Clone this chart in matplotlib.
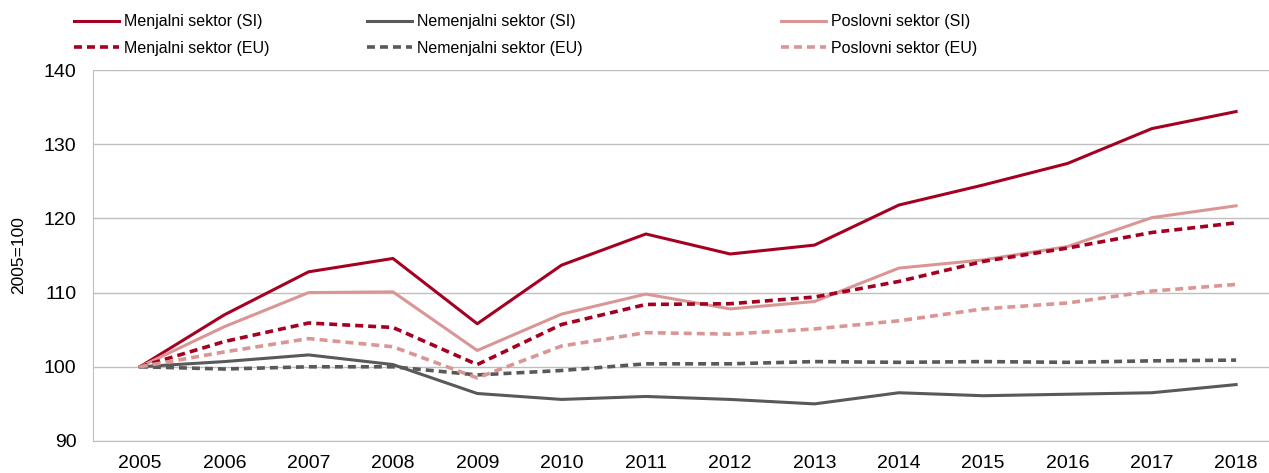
import matplotlib.pyplot as plt

plt.rcParams['font.family'] = ['Liberation Sans', 'DejaVu Sans']

years = [str(y) for y in range(2005, 2019)]

menjalni_si = [100, 107.0, 112.8, 114.6, 105.8, 113.7, 117.9, 115.2, 116.4, 121.8, 124.5, 127.4, 132.1, 134.4]
nemenjalni_si = [100, 100.7, 101.6, 100.3, 96.4, 95.6, 96.0, 95.6, 95.0, 96.5, 96.1, 96.3, 96.5, 97.6]
poslovni_si = [100, 105.4, 110.0, 110.1, 102.2, 107.1, 109.8, 107.8, 108.8, 113.3, 114.4, 116.2, 120.1, 121.7]
menjalni_eu = [100, 103.4, 105.9, 105.3, 100.3, 105.7, 108.4, 108.5, 109.4, 111.5, 114.2, 116.0, 118.1, 119.4]
nemenjalni_eu = [100, 99.7, 100.0, 100.0, 98.9, 99.5, 100.4, 100.4, 100.7, 100.6, 100.7, 100.6, 100.8, 100.9]
poslovni_eu = [100, 102.0, 103.8, 102.7, 98.5, 102.8, 104.6, 104.4, 105.1, 106.2, 107.8, 108.6, 110.2, 111.1]

red = '#A50021'
grey = '#595959'
pink = '#DA9694'

fig = plt.figure(figsize=(12.69, 4.73), dpi=100)
ax = fig.add_axes([0.0733, 0.0677, 0.9267, 0.7843])

x = range(len(years))
dash = (0, (2.2, 1.4))
ax.plot(x, menjalni_si, color=red, lw=2.2, label='Menjalni sektor (SI)')
ax.plot(x, nemenjalni_si, color=grey, lw=2.2, label='Nemenjalni sektor (SI)')
ax.plot(x, poslovni_si, color=pink, lw=2.2, label='Poslovni sektor (SI)')
ax.plot(x, menjalni_eu, color=red, lw=2.6, ls=dash, label='Menjalni sektor (EU)')
ax.plot(x, nemenjalni_eu, color=grey, lw=2.6, ls=dash, label='Nemenjalni sektor (EU)')
ax.plot(x, poslovni_eu, color=pink, lw=2.6, ls=dash, label='Poslovni sektor (EU)')

ax.set_xlim(-0.557, 13.39)
ax.set_ylim(90, 140)
ax.set_yticks(range(90, 141, 10))
ax.set_xticks(list(x))
ax.set_xticklabels(years)
ax.grid(axis='y', color='#BFBFBF', lw=1)
ax.set_axisbelow(True)
for s in ['top', 'right']:
    ax.spines[s].set_visible(False)
for s in ['left', 'bottom']:
    ax.spines[s].set_color('#BFBFBF')
ax.tick_params(axis='y', length=0, labelsize=14, pad=12)
ax.tick_params(axis='x', length=0, labelsize=14, pad=10)
ax.set_ylabel('2005=100', fontsize=12.5)
ax.yaxis.set_label_coords(-0.057, 0.5)

# legend in three groups of two
handles, labels = ax.get_legend_handles_labels()
xs = [0.0473, 0.278, 0.604]
for i in range(3):
    fig.legend([handles[i], handles[i + 3]], [labels[i], labels[i + 3]],
               loc='upper left', bbox_to_anchor=(xs[i], 1.0), frameon=False,
               fontsize=11.5, handlelength=2.8, handletextpad=0.33,
               labelspacing=0.72)

fig.savefig('out.png', dpi=100)
